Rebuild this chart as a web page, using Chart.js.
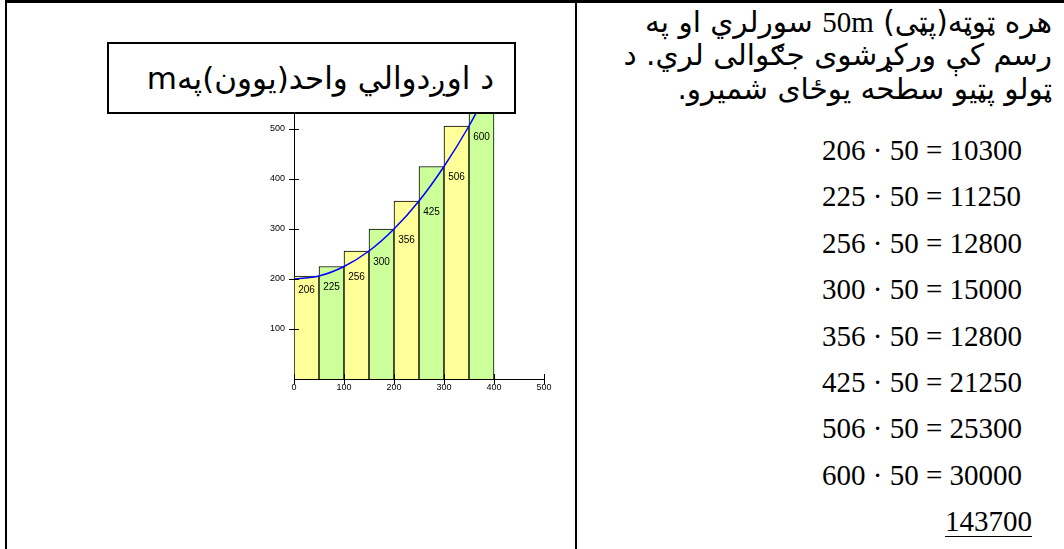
<!DOCTYPE html>
<html>
<head>
<meta charset="utf-8">
<script src="https://cdn.jsdelivr.net/npm/chart.js@4.4.1/dist/chart.umd.min.js"></script>
<style>
  body { margin: 0; width: 1064px; height: 549px; overflow: hidden; background: #fff; position: relative; }
  .frame { position: absolute; left: 5px; top: 0; width: 1100px; height: 600px; border-left: 2px solid #000; border-top: 3px solid #000; }
  .divider { position: absolute; left: 575px; top: 0; width: 2px; height: 549px; background: #000; }
  #chartBox { position: absolute; left: 240px; top: 60px; width: 330px; height: 350px; }
  .title { position: absolute; left: 107px; top: 42px; width: 405px; height: 68px; border: 2px solid #000; background: #fff;
           font-family: "DejaVu Sans", sans-serif; font-size: 31px; line-height: 68px; direction: rtl; text-align: right; white-space: nowrap; }
  .title span { margin-right: 20px; }
  .ps { position: absolute; right: 12px; direction: rtl; text-align: right; white-space: nowrap;
        font-family: "DejaVu Sans", sans-serif; font-size: 29.5px; line-height: 33px; }
  .serif { font-family: "Liberation Serif", "Times New Roman", serif; font-size: 29px; }
  .eq { position: absolute; left: 822px; font-family: "Liberation Serif", "Times New Roman", serif; font-size: 29px; line-height: 30px; white-space: nowrap; }
  .sum { position: absolute; left: 945px; font-family: "Liberation Serif", "Times New Roman", serif; font-size: 29px; line-height: 30px; border-bottom: 1.5px solid #000; }
</style>
</head>
<body>
<div class="frame"></div>
<div class="divider"></div>
<div id="chartBox"><canvas id="chart" width="330" height="350"></canvas></div>
<div class="title"><span>د اوږدوالي واحد(یوون)پهm</span></div>

<div class="ps" style="top:6px">هره ټوټه(پټی) <span class="serif">50m</span> سورلري او په</div>
<div class="ps" style="top:39px">رسم کې ورکړشوی جګوالی لري. د</div>
<div class="ps" style="top:73px">ټولو پټیو سطحه یوځای شمیرو.</div>
<div id="eqs"></div>

<script>
// strips: left edge (m), height (m)
const stripStart = [0, 50, 100, 150, 200, 250, 300, 350]
const stripWidth = 50
const stripHeight = [206, 225, 256, 300, 356, 425, 506, 600]

// curve drawn through the strip corners
const curveX = [0, 50, 100, 150, 200, 250, 300, 350, 400]
const curveY = [200, 206, 225, 256, 300, 356, 425, 506, 600]

const xTicks = [0, 100, 200, 300, 400, 500]
const yTicks = [100, 200, 300, 400, 500]

// products as written in the worksheet
const stripArea = [10300, 11250, 12800, 15000, 12800, 21250, 25300, 30000]
const areaTotal = 143700

// equation column on the right
const eqBox = document.getElementById('eqs')
stripHeight.forEach((h, i) => {
  const d = document.createElement('div')
  d.className = 'eq'
  d.style.top = (135 + i * 46.4) + 'px'
  d.textContent = `${h} · ${stripWidth} = ${stripArea[i]}`
  eqBox.appendChild(d)
})
const s = document.createElement('div')
s.className = 'sum'
s.style.top = (135 + 8 * 46.4) + 'px'
s.textContent = areaTotal
eqBox.appendChild(s)

const yellow = '#FFFF99'
const green = '#CCFF99'

const crossTicks = {
  id: 'crossTicks',
  afterDatasetsDraw(chart) {
    const { ctx, chartArea, scales: { x, y } } = chart
    ctx.save()
    ctx.strokeStyle = '#000'
    ctx.lineWidth = 1
    ctx.beginPath()
    yTicks.forEach(v => {
      const py = Math.round(y.getPixelForValue(v)) + 0.5
      ctx.moveTo(chartArea.left - 5, py)
      ctx.lineTo(chartArea.left + 5, py)
    })
    xTicks.forEach(v => {
      const px = Math.round(x.getPixelForValue(v)) + 0.5
      ctx.moveTo(px, chartArea.bottom - 5)
      ctx.lineTo(px, chartArea.bottom + 5)
    })
    ctx.stroke()
    ctx.restore()
  }
}

const stripLabels = {
  id: 'stripLabels',
  afterDatasetsDraw(chart) {
    const { ctx } = chart
    const bars = chart.getDatasetMeta(0).data
    const pts = chart.getDatasetMeta(1).data
    ctx.save()
    ctx.font = '10px "Liberation Sans", Arial, sans-serif'
    ctx.fillStyle = '#000'
    ctx.textAlign = 'center'
    ctx.textBaseline = 'middle'
    bars.forEach((b, i) => {
      ctx.fillText(String(stripHeight[i]), b.x, pts[i].y + 11)
    })
    ctx.restore()
  }
}

new Chart(document.getElementById('chart'), {
  type: 'bar',
  data: {
    datasets: [{
      type: 'bar',
      data: stripStart.map((s, i) => ({ x: s + stripWidth / 2, y: stripHeight[i] })),
      backgroundColor: stripStart.map((s, i) => i % 2 === 0 ? yellow : green),
      borderColor: '#000',
      borderWidth: 1,
      barPercentage: 1,
      categoryPercentage: 1,
      order: 2
    }, {
      type: 'line',
      data: curveX.map((x, i) => ({ x: x, y: curveY[i] })),
      borderColor: '#0000FF',
      borderWidth: 1.5,
      pointRadius: 0,
      cubicInterpolationMode: 'monotone',
      fill: false,
      order: 1
    }]
  },
  options: {
    responsive: false,
    animation: false,
    layout: { padding: { top: 19, right: 26, left: 0, bottom: 0 } },
    plugins: { legend: { display: false }, tooltip: { enabled: false } },
    scales: {
      x: {
        type: 'linear',
        offset: false,
        min: 0,
        max: 500,
        afterFit: (scale) => { scale.height = 31 },
        afterBuildTicks: (scale) => { scale.ticks = xTicks.map(v => ({ value: v })) },
        grid: { display: false, drawTicks: false, offset: false },
        border: { display: true, color: '#000', width: 1 },
        ticks: { color: '#000', padding: 3, maxRotation: 0, font: { size: 9, family: '"Liberation Sans", Arial, sans-serif' } }
      },
      y: {
        min: 0,
        max: 600,
        afterFit: (scale) => { scale.width = 54 },
        afterBuildTicks: (scale) => { scale.ticks = yTicks.map(v => ({ value: v })) },
        grid: { display: false, drawTicks: false },
        border: { display: true, color: '#000', width: 1 },
        ticks: { color: '#000', padding: 9, font: { size: 9, family: '"Liberation Sans", Arial, sans-serif' } }
      }
    }
  },
  plugins: [crossTicks, stripLabels]
})
</script>
</body>
</html>
